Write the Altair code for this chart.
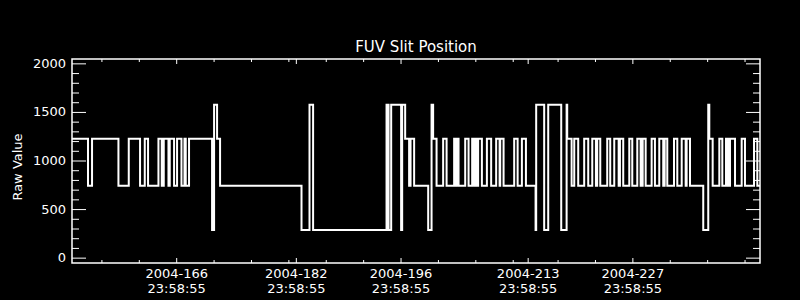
import altair as alt
import pandas as pd

# ---- data ----
# step series: day of year 2004 (fractional) and raw slit position value
day = [153.00, 155.14, 155.68, 159.21, 160.59, 162.10, 162.73, 163.17, 164.56, 165.00,
       165.27, 165.90, 166.07, 166.65, 167.05, 167.64, 168.04, 168.21, 168.65, 171.73,
       172.00, 172.40, 172.80, 183.69, 184.76, 185.24, 195.06, 195.33, 195.68, 197.01,
       197.15, 197.55, 198.08, 198.27, 198.75, 200.63, 201.08, 201.29, 201.75, 202.63,
       203.09, 204.10, 204.29, 204.42, 204.69, 205.58, 206.03, 206.51, 206.78, 206.97,
       207.14, 207.31, 207.81, 208.48, 209.05, 209.72, 210.18, 210.26, 210.71, 212.13,
       212.59, 213.16, 213.70, 214.99, 215.07, 216.14, 216.68, 218.42, 219.14, 219.22,
       219.81, 220.16, 220.69, 221.49, 222.03, 222.57, 223.06, 223.23, 223.64, 224.57,
       224.97, 225.51, 226.10, 226.27, 226.71, 227.52, 227.92, 228.59, 229.04, 229.31,
       229.71, 230.51, 230.95, 231.53, 232.06, 232.25, 232.60, 233.50, 233.94, 234.53,
       235.06, 235.19, 235.64, 237.41, 238.08, 238.22, 238.67, 239.56, 239.96, 240.45,
       240.72, 240.99, 241.66, 242.55, 242.99, 244.20, 244.64, 245.00]
raw = [1230, 745, 1230, 745, 1230, 745, 1230, 745, 1230, 745,
       1230, 745, 1230, 745, 1230, 745, 1230, 745, 1230, 290,
       1580, 1230, 745, 290, 1580, 290, 1580, 290, 1580, 290,
       1580, 1230, 745, 1230, 745, 290, 1580, 1230, 745, 1230,
       745, 1230, 745, 1230, 745, 1230, 745, 1230, 745, 1230,
       745, 1230, 745, 1230, 745, 1230, 745, 1230, 745, 1230,
       745, 1230, 745, 290, 1580, 290, 1580, 290, 1580, 1230,
       745, 1230, 745, 1230, 745, 1230, 745, 1230, 745, 1230,
       745, 1230, 745, 1230, 745, 1230, 745, 1230, 745, 1230,
       745, 1230, 745, 1230, 745, 1230, 745, 1230, 745, 1230,
       745, 1230, 745, 290, 1580, 1230, 745, 1230, 745, 1230,
       745, 1230, 745, 1230, 745, 1230, 745, 745]

x_major = [166.999, 182.999, 196.999, 213.999, 227.999]
x_label_date = ["2004-166", "2004-182", "2004-196", "2004-213", "2004-227"]
x_label_time = ["23:58:55", "23:58:55", "23:58:55", "23:58:55", "23:58:55"]
x_minor = [157, 162, 172, 177, 182, 187, 192, 202, 207, 212, 218, 223, 233, 238, 243]
y_major = [0, 500, 1000, 1500, 2000]
y_minor = [100, 200, 300, 400, 600, 700, 800, 900, 1100, 1200, 1300, 1400,
           1600, 1700, 1800, 1900]

X_DOMAIN = [153, 245]
Y_DOMAIN = [-50, 2050]
W, H = 688, 204
FONT = "DejaVu Sans"

xs = alt.Scale(domain=X_DOMAIN, nice=False, zero=False)
ys = alt.Scale(domain=Y_DOMAIN, nice=False, zero=False)

series = pd.DataFrame({"day": day, "raw": raw})
xmaj = pd.DataFrame({"day": x_major, "d": x_label_date, "t": x_label_time})
xmin = pd.DataFrame({"day": x_minor})
ymaj = pd.DataFrame({"v": y_major, "lab": [str(v) for v in y_major]})
ymin = pd.DataFrame({"v": y_minor})

line = alt.Chart(series).mark_line(
    interpolate="step-after", color="white", strokeWidth=2
).encode(
    x=alt.X("day:Q", scale=xs, axis=None),
    y=alt.Y("raw:Q", scale=ys, axis=None),
)

def xticks(df, length):
    bottom = alt.Chart(df).mark_rule(color="white", strokeWidth=1).encode(
        x=alt.X("day:Q", scale=xs, axis=None),
        y=alt.value(H), y2=alt.value(H - length))
    top = alt.Chart(df).mark_rule(color="white", strokeWidth=1).encode(
        x=alt.X("day:Q", scale=xs, axis=None),
        y=alt.value(0), y2=alt.value(length))
    return [bottom, top]

def yticks(df, length):
    left = alt.Chart(df).mark_rule(color="white", strokeWidth=1).encode(
        y=alt.Y("v:Q", scale=ys, axis=None),
        x=alt.value(0), x2=alt.value(length))
    right = alt.Chart(df).mark_rule(color="white", strokeWidth=1).encode(
        y=alt.Y("v:Q", scale=ys, axis=None),
        x=alt.value(W - length), x2=alt.value(W))
    return [left, right]

ylabels = alt.Chart(ymaj).mark_text(
    color="white", font=FONT, fontSize=13, align="right", baseline="middle"
).encode(
    y=alt.Y("v:Q", scale=ys, axis=None),
    x=alt.value(-6),
    text="lab:N",
)

xlab1 = alt.Chart(xmaj).mark_text(
    color="white", font=FONT, fontSize=13, align="center", baseline="middle"
).encode(
    x=alt.X("day:Q", scale=xs, axis=None),
    y=alt.value(H + 11),
    text="d:N",
)
xlab2 = alt.Chart(xmaj).mark_text(
    color="white", font=FONT, fontSize=13, align="center", baseline="middle"
).encode(
    x=alt.X("day:Q", scale=xs, axis=None),
    y=alt.value(H + 26),
    text="t:N",
)

ytitle = alt.Chart(pd.DataFrame({"t": ["Raw Value"]})).mark_text(
    color="white", font=FONT, fontSize=13, angle=270, align="center", baseline="middle"
).encode(
    x=alt.value(-54),
    y=alt.value(H / 2 + 6),
    text="t:N",
)

layers = [line] + xticks(xmaj, 5) + xticks(xmin, 3) + yticks(ymaj, 14) + yticks(ymin, 7) \
    + [ylabels, xlab1, xlab2, ytitle]

chart = alt.layer(*layers).properties(
    width=W,
    height=H,
    background="black",
    padding={"left": 72, "top": 59, "right": 40, "bottom": 37},
    autosize=alt.AutoSizeParams(type="none"),
    title=alt.TitleParams(
        "FUV Slit Position", color="white", font=FONT, fontSize=15,
        fontWeight="normal", anchor="middle", offset=3,
    ),
).configure_view(stroke="white", strokeWidth=1.5)

chart.save("out.html", embed_options={"renderer": "svg", "actions": False})
